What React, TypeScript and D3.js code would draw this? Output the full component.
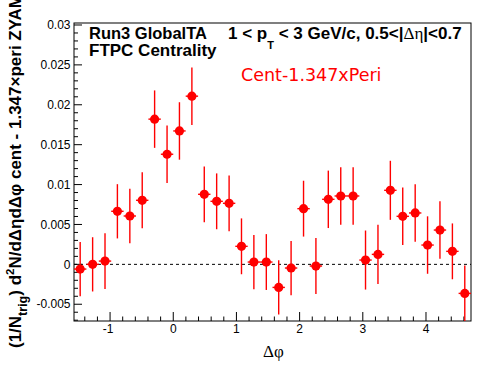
import React, { useRef, useEffect } from "react";
import * as d3 from "d3";

// bin centres in delta-phi (32 bins over -pi/2 .. 3pi/2)
const dphi = [
  -1.473, -1.276, -1.08, -0.884, -0.687, -0.491, -0.295, -0.098, 0.098, 0.295,
  0.491, 0.687, 0.884, 1.08, 1.276, 1.473, 1.669, 1.865, 2.062, 2.258, 2.454,
  2.651, 2.847, 3.043, 3.24, 3.436, 3.632, 3.829, 4.025, 4.221, 4.418, 4.614,
];
const binWidth = 0.196;

const yields = [
  -0.00059, 0.0, 0.00041, 0.00665, 0.00606, 0.00803, 0.0182, 0.0138, 0.01672,
  0.02108, 0.00878, 0.0079, 0.00765, 0.00226, 0.00029, 0.00029, -0.00289,
  -0.00046, 0.00698, -0.00021, 0.00815, 0.00857, 0.00857, 0.00054, 0.00125,
  0.00928, 0.00602, 0.00644, 0.00242, 0.0043, 0.00163, -0.00364,
];
const errors = [
  0.0034, 0.0034, 0.0035, 0.0034, 0.0034, 0.0035, 0.0036, 0.0036, 0.0036,
  0.0036, 0.0035, 0.0035, 0.0035, 0.0035, 0.0034, 0.0035, 0.0034, 0.0034,
  0.0035, 0.0035, 0.0036, 0.0036, 0.0036, 0.0037, 0.0037, 0.0037, 0.0036,
  0.0036, 0.0036, 0.0036, 0.0035, 0.0035,
];

const xTicks = [-1, 0, 1, 2, 3, 4];
const yTicks = [-0.005, 0, 0.005, 0.01, 0.015, 0.02, 0.025, 0.03];
const yTickLabels = ["-0.005", "0", "0.005", "0.01", "0.015", "0.02", "0.025", "0.03"];

const App: React.FC = () => {
  const ref = useRef<SVGSVGElement>(null);

  useEffect(() => {
    const svg = d3.select(ref.current);
    svg.selectAll("*").remove();

    const width = 496,
      height = 374,
      margin = { top: 23, right: 25, bottom: 53, left: 74 };

    const x = d3
      .scaleLinear()
      .domain([-Math.PI / 2, (3 * Math.PI) / 2])
      .range([margin.left, width - margin.right]);
    const y = d3
      .scaleLinear()
      .domain([-0.0071, 0.03025])
      .range([height - margin.bottom, margin.top]);

    const [x0, x1] = x.range();
    const [yb, yt] = y.range();

    svg.append("rect").attr("width", width).attr("height", height).attr("fill", "#fff");

    svg
      .append("defs")
      .append("clipPath")
      .attr("id", "frame-clip")
      .append("rect")
      .attr("x", x0)
      .attr("y", yt)
      .attr("width", x1 - x0)
      .attr("height", yb - yt);

    // zero line
    svg
      .append("line")
      .attr("x1", x0)
      .attr("x2", x1)
      .attr("y1", y(0))
      .attr("y2", y(0))
      .attr("stroke", "#000")
      .attr("stroke-width", 1)
      .attr("stroke-dasharray", "3,3");

    // ticks
    const axes = svg.append("g").attr("stroke", "#000").attr("stroke-width", 1);
    d3.range(-1.4, 4.71, 0.2).forEach((t) => {
      const major = Math.abs(t - Math.round(t)) < 1e-6;
      axes
        .append("line")
        .attr("x1", x(t))
        .attr("x2", x(t))
        .attr("y1", yb)
        .attr("y2", yb - (major ? 9 : 4.5));
    });
    d3.range(-7, 31).forEach((k) => {
      const t = k * 0.001;
      const major = k % 5 === 0;
      axes
        .append("line")
        .attr("x1", x0)
        .attr("x2", x0 + (major ? 8 : 4))
        .attr("y1", y(t))
        .attr("y2", y(t));
    });

    // frame
    svg
      .append("rect")
      .attr("x", x0)
      .attr("y", yt)
      .attr("width", x1 - x0)
      .attr("height", yb - yt)
      .attr("fill", "none")
      .attr("stroke", "#000")
      .attr("stroke-width", 1);

    // tick labels
    svg
      .append("g")
      .selectAll("text")
      .data(xTicks)
      .enter()
      .append("text")
      .attr("x", (d) => x(d) - (d < 0 ? 2 : 0))
      .attr("y", 333)
      .attr("text-anchor", "middle")
      .style("font-family", "'Liberation Sans', Arial, sans-serif")
      .style("font-size", "12px")
      .text((d) => String(d));

    svg
      .append("g")
      .selectAll("text")
      .data(yTicks)
      .enter()
      .append("text")
      .attr("x", 70.5)
      .attr("y", (d) => y(d))
      .attr("dy", "0.35em")
      .attr("text-anchor", "end")
      .style("font-family", "'Liberation Sans', Arial, sans-serif")
      .style("font-size", "12px")
      .text((d, i) => yTickLabels[i]);

    // data points with error bars
    const pts = svg.append("g").attr("clip-path", "url(#frame-clip)");
    dphi.forEach((p, i) => {
      const cx = x(p);
      const cy = y(yields[i]);
      pts
        .append("line")
        .attr("x1", cx)
        .attr("x2", cx)
        .attr("y1", y(yields[i] + errors[i]))
        .attr("y2", y(yields[i] - errors[i]))
        .attr("stroke", "#ff0000")
        .attr("stroke-width", 1.4);
      pts
        .append("line")
        .attr("x1", x(p - binWidth / 2))
        .attr("x2", x(p + binWidth / 2))
        .attr("y1", cy)
        .attr("y2", cy)
        .attr("stroke", "#ff0000")
        .attr("stroke-width", 1.4);
      pts
        .append("circle")
        .attr("cx", cx)
        .attr("cy", cy)
        .attr("r", 4.6)
        .attr("fill", "#ff0000");
    });

    // labels inside the frame
    const bold = "'Liberation Sans', Arial, Helvetica, sans-serif";
    svg
      .append("text")
      .attr("x", 89)
      .attr("y", 39)
      .style("font-family", bold)
      .style("font-weight", "bold")
      .style("font-size", "16.5px")
      .text("Run3 GlobalTA");
    svg
      .append("text")
      .attr("x", 89)
      .attr("y", 55.5)
      .style("font-family", bold)
      .style("font-weight", "bold")
      .style("font-size", "17px")
      .text("FTPC Centrality");

    const cut = svg
      .append("text")
      .attr("x", 228)
      .attr("y", 39)
      .style("font-family", bold)
      .style("font-weight", "bold")
      .style("font-size", "17px");
    cut.append("tspan").text("1 < p");
    cut.append("tspan").attr("dy", 10).style("font-size", "11px").text("T");
    cut.append("tspan").attr("dy", -10).text(" < 3 GeV/c, 0.5<|");
    cut
      .append("tspan")
      .style("font-family", "'Liberation Serif', serif")
      .style("font-weight", "normal")
      .style("font-size", "17px")
      .text("Δη");
    cut.append("tspan").text("|<0.7");

    svg
      .append("text")
      .attr("x", 241)
      .attr("y", 81)
      .attr("fill", "#ff0000")
      .style("font-family", "'DejaVu Sans', sans-serif")
      .style("font-size", "17.5px")
      .text("Cent-1.347xPeri");

    // x axis title
    svg
      .append("text")
      .attr("x", 263)
      .attr("y", 357)
      .style("font-family", "'Liberation Serif', serif")
      .style("font-size", "17px")
      .text("Δφ");

    // y axis title
    const yt2 = svg
      .append("text")
      .attr("transform", "translate(21,348) rotate(-90)")
      .style("font-family", bold)
      .style("font-weight", "bold")
      .style("font-size", "17px");
    yt2.append("tspan").text("(1/N");
    yt2.append("tspan").attr("dy", 6).style("font-size", "12.5px").text("trig");
    yt2.append("tspan").attr("dy", -6).text(") d");
    yt2.append("tspan").attr("dy", -7).style("font-size", "11.5px").text("2");
    yt2.append("tspan").attr("dy", 7).text("N/dΔηdΔφ cent - 1.347×peri ZYAM)");
  }, []);

  return (
    <svg
      ref={ref}
      width={496}
      height={374}
      style={{ position: "absolute", left: 0, top: 0 }}
    />
  );
};

export default App;
